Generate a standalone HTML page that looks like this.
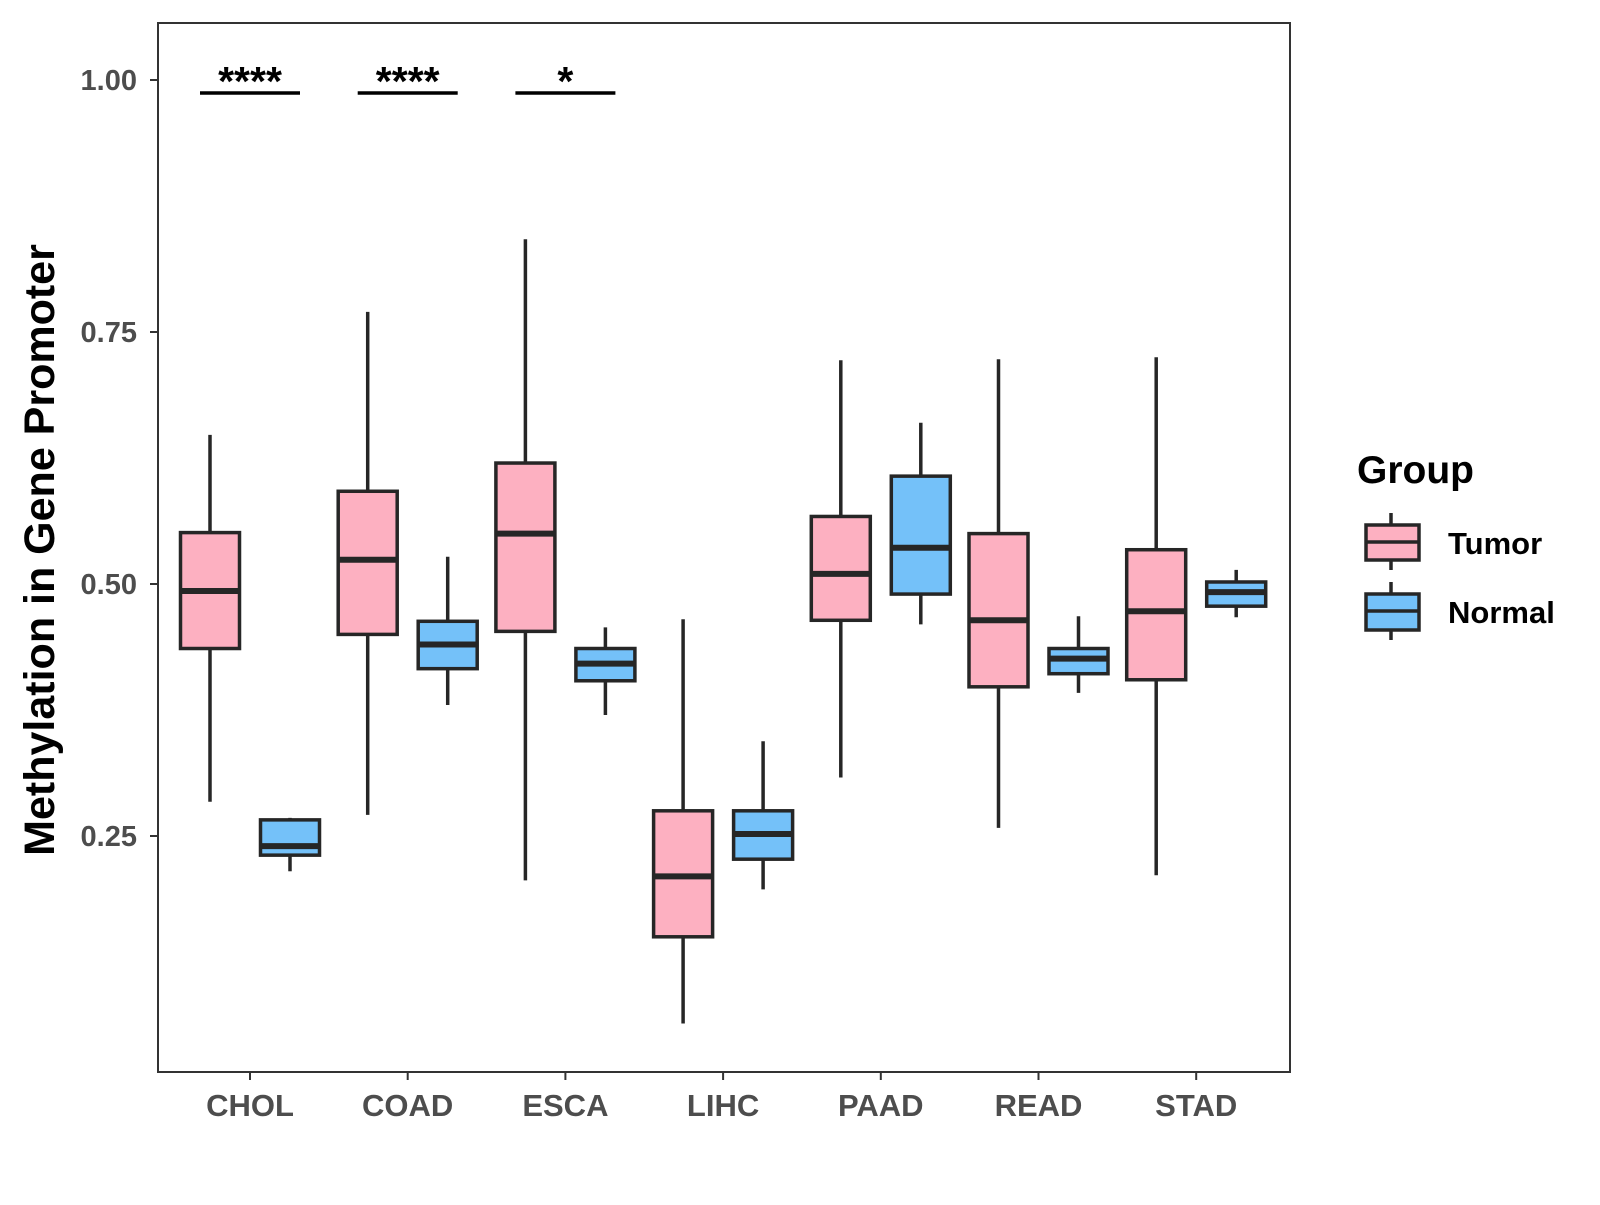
<!DOCTYPE html>
<html><head><meta charset="utf-8"><style>
body{margin:0;background:#fff}
svg text{font-family:"Liberation Sans",sans-serif;font-weight:bold}
</style></head><body>
<svg id="chart" width="1600" height="1200" xmlns="http://www.w3.org/2000/svg">
<rect width="1600" height="1200" fill="#fff"/>
<g id="marks"></g>
<rect x="158" y="23" width="1132" height="1049" fill="none" stroke="#333" stroke-width="2"/>
<g id="axes"></g>
<text transform="translate(54,550) rotate(-90)" text-anchor="middle" font-size="43" fill="#000">Methylation in Gene Promoter</text>
<g>
<text x="1357" y="483" font-size="39" fill="#000">Group</text>
<g>
<line x1="1391" y1="513" x2="1391" y2="570" stroke="#262626" stroke-width="3.5"/>
<rect x="1366" y="525" width="53" height="35" fill="#FDB0C1" stroke="#262626" stroke-width="3.5"/>
<line x1="1366" y1="542" x2="1419" y2="542" stroke="#262626" stroke-width="3.5"/>
<text x="1448" y="554" font-size="31" fill="#000">Tumor</text>
</g>
<g>
<line x1="1391" y1="582" x2="1391" y2="640" stroke="#262626" stroke-width="3.5"/>
<rect x="1366" y="594" width="53" height="36" fill="#74C1F9" stroke="#262626" stroke-width="3.5"/>
<line x1="1366" y1="611" x2="1419" y2="611" stroke="#262626" stroke-width="3.5"/>
<text x="1448" y="623" font-size="31" fill="#000">Normal</text>
</g>
</g>
</svg>
<script>
const categories=["CHOL","COAD","ESCA","LIHC","PAAD","READ","STAD"];
const tumorLow=[0.284,0.271,0.206,0.064,0.308,0.258,0.211];
const tumorQ1=[0.436,0.450,0.453,0.150,0.464,0.398,0.405];
const tumorMed=[0.493,0.524,0.550,0.210,0.510,0.464,0.473];
const tumorQ3=[0.551,0.592,0.620,0.275,0.567,0.550,0.534];
const tumorHigh=[0.648,0.770,0.842,0.465,0.722,0.723,0.725];
const normalLow=[0.215,0.380,0.370,0.197,0.460,0.392,0.467];
const normalQ1=[0.231,0.416,0.404,0.227,0.490,0.411,0.478];
const normalMed=[0.240,0.440,0.421,0.252,0.536,0.426,0.492];
const normalQ3=[0.266,0.463,0.436,0.275,0.607,0.436,0.502];
const normalHigh=[0.268,0.527,0.457,0.344,0.660,0.468,0.514];
const yTicks=[0.25,0.5,0.75,1.0];
const yTickLabels=["0.25","0.50","0.75","1.00"];
const sigCats=["CHOL","COAD","ESCA"];
const sigLabels=["****","****","*"];
const NS="http://www.w3.org/2000/svg";
const yS=v=>80+(1-v)*1008;
const xS=i=>250+157.7*i;
const marks=document.getElementById('marks'),axes=document.getElementById('axes');
function mk(tag,attrs,parent){const e=document.createElementNS(NS,tag);for(const k in attrs)e.setAttribute(k,attrs[k]);parent.appendChild(e);return e;}
const groups=[{n:'tumor',off:-40,fill:'#FDB0C1',lo:tumorLow,q1:tumorQ1,md:tumorMed,q3:tumorQ3,hi:tumorHigh},
{n:'normal',off:40,fill:'#74C1F9',lo:normalLow,q1:normalQ1,md:normalMed,q3:normalQ3,hi:normalHigh}];
categories.forEach((c,i)=>{
 groups.forEach(g=>{
  const cx=xS(i)+g.off,w=59;
  const gr=mk('g',{},marks);
  
  
  mk('line',{x1:cx,x2:cx,y1:yS(g.hi[i]),y2:yS(g.lo[i]),stroke:'#262626','stroke-width':3.5},gr);
  mk('rect',{x:cx-w/2,y:yS(g.q3[i]),width:w,height:yS(g.q1[i])-yS(g.q3[i]),fill:g.fill,stroke:'#262626','stroke-width':3.5},gr);
  mk('line',{x1:cx-w/2,x2:cx+w/2,y1:yS(g.md[i]),y2:yS(g.md[i]),stroke:'#262626','stroke-width':6},gr);
 });
 mk('line',{x1:xS(i),x2:xS(i),y1:1072,y2:1080,stroke:'#333','stroke-width':2},axes);
 const t=mk('text',{x:xS(i),y:1116,'text-anchor':'middle','font-size':31,fill:'#4d4d4d'},axes);
 
 
 t.textContent=c;
});
yTicks.forEach((v,k)=>{
 mk('line',{x1:150,x2:158,y1:yS(v),y2:yS(v),stroke:'#333','stroke-width':2},axes);
 const t=mk('text',{x:137,y:yS(v)+10,'text-anchor':'end','font-size':29,fill:'#4d4d4d'},axes);
 
 
 t.textContent=yTickLabels[k];
});
sigCats.forEach((c,k)=>{
 const i=categories.indexOf(c);
 const g=mk('g',{},marks);
 
 
 mk('line',{x1:xS(i)-50,x2:xS(i)+50,y1:93,y2:93,stroke:'#000','stroke-width':3.5},g);
 const t=mk('text',{x:xS(i),y:95,'text-anchor':'middle','font-size':41,fill:'#000'},g);
 t.textContent=sigLabels[k];
});
</script>
</body></html>
